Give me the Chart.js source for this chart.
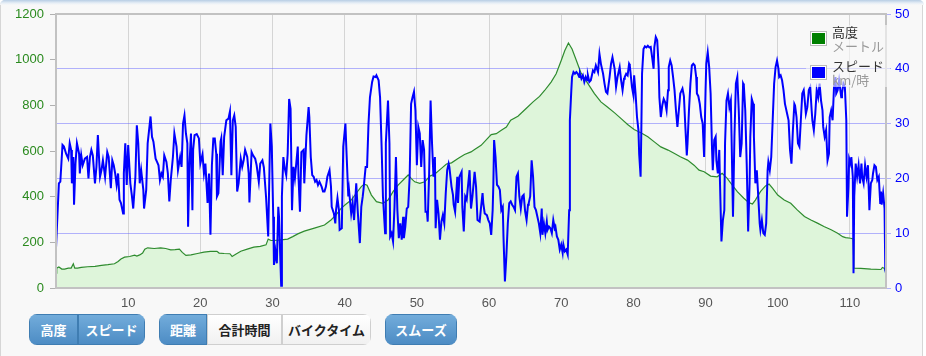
<!DOCTYPE html>
<html><head><meta charset="utf-8">
<script src="https://cdn.jsdelivr.net/npm/chart.js@4.4.1/dist/chart.umd.min.js"></script>
<style>
html,body{margin:0;padding:0;background:#fff;width:926px;height:356px;overflow:hidden;}
#card{position:absolute;left:0;top:0;width:921px;height:370px;background:#f8f8f8;border:1px solid #d6d6d6;border-radius:5px;}
#topbar{position:absolute;left:0;top:0;width:924px;height:5px;background:linear-gradient(#b7cde4,#e6eef6 60%,#f8f8f8);border-radius:5px 5px 0 0;}
#chart{position:absolute;left:0;top:0;}
#legend{position:absolute;left:806px;top:25px;width:84px;height:62px;background:rgba(248,248,248,0.6);font-family:"Noto Sans CJK JP",sans-serif;font-size:13px;}
.lg{position:absolute;left:4px;width:15px;height:13px;border:1px solid #bbb;box-shadow:inset 0 0 0 1px #fff;}
.lt{position:absolute;left:26px;line-height:14px;white-space:nowrap;color:#333;}
.ls{position:absolute;left:26px;line-height:14px;white-space:nowrap;color:#999;}
.grp{position:absolute;top:314px;height:31px;display:flex;border-radius:8px;overflow:hidden;font-family:"Noto Sans CJK JP",sans-serif;font-weight:bold;font-size:13px;}
.btn{display:flex;align-items:center;justify-content:center;height:29px;box-sizing:border-box;}
.on{background:linear-gradient(#72acdb,#4d8cc4);color:#fff;border:1px solid #3f7db2;}
.off{background:linear-gradient(#ffffff,#f1f1f1);color:#222;border:1px solid #cfcfcf;}
</style></head>
<body>
<div id="card"></div><div id="topbar"></div>
<canvas id="chart" width="926" height="310"></canvas>
<div id="legend"></div>
<div id="buttons"></div>
<script>
// ---- data ----
const elevKm = [0,0.1,0.4,0.8,1.2,1.7,2.1,2.4,2.6,3.0,3.5,4.4,5.4,6.3,7.2,8.1,8.6,9.0,9.5,10.2,10.9,11.2,11.6,12.0,12.3,12.7,13.6,14.5,15.2,15.9,16.5,17.1,17.5,18.0,18.7,19.6,20.5,21.4,22.3,22.6,23.3,24.1,24.4,24.9,25.6,26.5,27.4,28.3,29.1,29.4,29.8,30.2,31.2,32.1,32.8,33.5,34.4,35.8,37.2,38.1,38.8,39.5,40.2,40.9,41.6,42.3,42.7,43.1,43.7,44.4,45.3,46.0,46.7,47.4,48.1,48.8,49.2,49.7,50.4,51.1,51.8,52.5,53.4,54.1,54.8,55.7,56.6,57.5,58.0,58.9,59.8,60.3,61.0,61.7,62.4,63.0,64.0,65.1,66.1,67.0,67.7,68.6,69.3,70.0,70.5,71.0,71.5,72.1,72.7,73.7,74.6,75.5,76.4,77.4,78.3,79.2,80.1,81.1,82.0,82.9,83.8,84.8,85.7,86.5,87.5,88.4,89.1,89.8,90.7,91.6,92.3,93.0,93.7,94.4,95.3,96.0,96.5,96.9,97.6,98.3,98.8,99.3,100.0,100.9,101.8,102.7,103.7,104.6,105.5,106.4,107.4,108.3,109.0,109.4,110.1,110.45,110.55,111.5,112.9,114.3,114.5,114.8,115.0];
const elevM = [65,87,92,83,83,87,87,106,87,87,90,93,95,99,102,106,116,127,135,138,144,140,145,153,170,176,173,176,173,167,168,170,156,143,145,151,157,160,161,153,151,150,138,148,161,170,179,182,189,214,208,208,211,214,225,237,249,262,276,298,320,349,368,385,415,444,455,450,407,378,371,385,422,451,473,495,480,465,458,465,490,499,524,543,548,567,585,596,607,625,655,672,676,691,705,735,752,785,815,839,865,902,938,996,1040,1073,1047,996,945,895,851,815,793,767,742,716,694,679,662,640,618,604,589,575,560,538,516,509,490,487,502,480,451,422,393,374,368,385,422,447,455,436,407,385,371,342,313,298,284,269,255,240,225,221,218,215,87,86,83,81,90,86,65];

const speedKm = [0,0.4,0.6,0.9,1.1,1.4,1.7,1.9,2.1,2.2,2.4,2.5,2.7,2.9,3.2,3.3,3.5,3.7,4.0,4.3,4.5,4.7,4.9,5.1,5.4,5.6,5.8,6.1,6.3,6.5,6.8,7.1,7.3,7.6,7.8,8.0,8.2,8.4,8.6,8.8,9.0,9.3,9.4,9.6,9.8,10.0,10.3,10.5,10.7,11.0,11.2,11.4,11.6,11.8,12.1,12.2,12.5,12.7,13.1,13.3,13.5,13.8,14.0,14.2,14.4,14.6,14.8,15.0,15.3,15.5,15.7,15.9,16.2,16.4,16.7,16.9,17.2,17.4,17.6,17.8,18.0,18.2,18.3,18.5,18.7,18.9,19.0,19.2,19.5,19.8,20.0,20.3,20.5,20.7,21.0,21.2,21.4,21.6,21.8,22.0,22.2,22.3,22.5,22.8,22.9,23.1,23.3,23.6,23.9,24.1,24.3,24.5,24.7,24.9,25.1,25.3,25.6,25.8,26.0,26.2,26.5,26.7,26.8,27.1,27.3,27.6,27.8,28.1,28.3,28.6,28.8,29.1,29.4,29.7,29.9,30.1,30.2,30.4,30.6,30.8,30.9,31.2,31.3,31.5,31.7,31.9,32.1,32.3,32.5,32.7,32.9,33.1,33.5,33.6,33.8,34.0,34.3,34.4,34.7,35.0,35.1,35.3,35.5,35.7,35.9,36.1,36.3,36.5,36.8,37.0,37.2,37.4,37.6,37.9,38.1,38.2,38.5,38.7,38.8,39.0,39.2,39.3,39.6,39.8,40.1,40.2,40.5,40.6,40.9,41.1,41.3,41.6,41.8,42.1,42.3,42.5,42.6,42.9,43.1,43.3,43.5,43.8,44.0,44.3,44.4,44.7,44.9,45.1,45.3,45.6,45.7,46.0,46.2,46.3,46.5,46.7,46.9,47.1,47.3,47.5,47.7,47.9,48.1,48.2,48.4,48.6,48.8,49.0,49.2,49.4,49.6,49.8,50.0,50.2,50.4,50.6,50.8,51.0,51.2,51.4,51.5,51.7,51.9,52.1,52.3,52.5,52.6,52.8,53.0,53.2,53.4,53.6,53.8,54.0,54.2,54.4,54.5,54.8,55.0,55.1,55.3,55.6,55.7,55.9,56.2,56.3,56.5,56.7,56.9,57.3,57.5,57.7,58.0,58.2,58.4,58.7,58.9,59.1,59.2,59.4,59.7,59.9,60.1,60.3,60.5,60.6,60.7,60.9,61.1,61.3,61.5,61.7,61.9,62.0,62.2,62.4,62.6,62.8,63.0,63.2,63.4,63.6,63.8,64.0,64.2,64.4,64.6,64.8,65.0,65.2,65.4,65.5,65.7,65.9,66.1,66.3,66.5,66.7,66.9,67.1,67.3,67.4,67.6,67.8,68.0,68.1,68.3,68.5,68.7,68.9,69.1,69.2,69.4,69.6,69.8,70.0,70.2,70.3,70.5,70.7,70.9,71.1,71.2,71.4,71.5,71.7,71.9,72.1,72.3,72.5,72.6,72.8,73.0,73.2,73.4,73.6,73.7,73.9,74.1,74.4,74.6,74.8,75.1,75.3,75.5,75.8,76.0,76.2,76.4,76.7,76.9,77.1,77.4,77.6,77.8,78.1,78.3,78.5,78.7,78.8,79.0,79.2,79.4,79.5,79.8,80.0,80.1,80.3,80.5,80.7,80.8,81.0,81.1,81.2,81.4,81.6,81.8,82.0,82.2,82.4,82.6,82.8,82.9,83.1,83.3,83.5,83.6,83.8,84.0,84.2,84.4,84.6,84.8,84.9,85.1,85.3,85.5,85.7,85.9,86.1,86.5,86.8,87.0,87.2,87.4,87.5,87.7,87.9,88.1,88.3,88.5,88.7,88.8,89.0,89.2,89.4,89.6,89.8,90.0,90.1,90.3,90.5,90.7,90.9,91.0,91.2,91.4,91.5,91.7,91.9,92.0,92.2,92.4,92.6,92.7,92.9,93.1,93.3,93.5,93.6,93.8,94.0,94.2,94.4,94.6,94.8,95.0,95.2,95.3,95.5,95.7,95.8,95.9,96.1,96.2,96.4,96.6,96.7,96.9,97.1,97.3,97.5,97.6,97.8,98.0,98.2,98.4,98.6,98.7,98.9,99.1,99.3,99.5,99.7,99.9,100.1,100.2,100.4,100.6,100.8,101.0,101.1,101.3,101.5,101.7,101.9,102.1,102.3,102.4,102.6,102.8,103.0,103.2,103.4,103.6,103.7,103.9,104.1,104.3,104.5,104.7,104.8,105.0,105.2,105.4,105.6,105.8,106.0,106.2,106.3,106.5,106.7,106.9,107.1,107.2,107.4,107.6,107.8,108.0,108.1,108.3,108.5,108.8,108.9,109.1,109.3,109.5,109.6,109.8,109.9,110.1,110.2,110.4,110.5,110.6,110.8,111.0,111.2,111.4,111.6,111.7,111.9,112.1,112.3,112.5,112.7,112.9,113.1,113.2,113.4,113.6,113.8,114.0,114.2,114.3,114.4,114.6,114.8,114.9,115.0];
const speedKmh = [7.3,19.1,19.4,26.1,25.8,24.5,23.6,26.4,25.2,19.1,23.9,15.2,22.7,26.4,24.5,20.9,24.2,22.4,23.6,23.9,20.0,23.9,25.2,24.2,19.1,22.1,27.9,20.3,21.5,23.3,20.3,24.8,23.9,18.2,23.3,22.4,20.9,18.8,20.9,16.1,15.5,13.6,20.9,26.4,18.8,26.1,19.1,17.0,14.5,20.3,29.7,26.4,19.1,21.5,17.9,14.5,17.9,26.4,31.3,27.6,26.7,23.6,23.0,22.4,19.7,20.9,20.3,24.2,23.0,20.9,15.8,19.7,23.9,28.2,25.8,21.5,23.9,22.1,30.0,31.5,28.2,26.4,11.2,22.7,28.2,14.2,25.2,27.9,28.1,27.3,22.7,24.4,20.9,22.7,15.5,20.9,9.7,22.4,27.3,27.3,24.5,16.7,17.3,26.7,27.3,20.6,27.6,30.6,30.9,32.2,20.6,30.6,31.5,29.4,17.6,19.1,23.6,22.1,23.3,25.2,23.9,20.9,15.6,24.8,24.2,23.6,22.4,19.4,22.7,23.3,22.0,16.7,9.4,30.0,25.8,13.0,4.2,6.7,4.5,14.8,13.0,0.4,16.7,23.9,21.8,20.6,24.5,34.5,32.7,14.2,22.1,20.0,25.8,20.3,13.9,24.8,25.2,19.1,27.9,33.0,31.2,23.9,20.6,20.3,19.4,19.7,18.8,19.4,18.5,17.6,17.6,18.5,20.3,21.5,18.5,14.8,13.6,11.8,14.2,16.4,14.2,10.6,10.9,25.8,30.0,26.4,16.7,17.9,13.6,15.5,12.4,19.1,14.2,8.2,14.8,16.7,17.9,22.1,22.1,30.0,34.8,37.6,38.6,38.5,38.8,37.9,34.8,26.4,16.7,10.0,26.4,34.2,26.4,9.4,10.0,8.5,14.8,23.9,14.2,9.1,11.8,8.8,13.0,9.1,11.2,14.5,14.8,20.3,33.6,34.8,35.8,32.4,22.4,29.4,28.2,22.1,27.0,25.2,13.9,13.9,12.1,20.9,34.2,26.4,20.3,23.9,10.9,16.1,13.6,8.8,12.1,13.3,11.8,17.3,21.5,22.7,22.1,18.5,17.0,15.2,13.9,20.3,15.5,20.3,21.2,14.8,10.3,16.7,16.1,21.5,14.5,16.7,21.2,18.5,12.4,12.1,14.8,17.3,15.5,13.6,13.3,12.4,11.8,9.7,14.2,19.1,27.0,23.9,18.8,18.5,17.9,14.2,14.8,9.4,1.2,5.8,11.8,15.5,15.8,15.2,14.8,14.2,20.3,20.9,16.7,14.5,16.7,17.0,14.0,12.4,15.2,15.5,16.7,23.3,20.3,14.8,14.2,13.0,11.8,10.0,14.5,9.7,11.8,10.0,12.1,10.6,11.2,10.9,10.0,12.4,10.9,11.2,9.4,8.8,7.0,7.9,6.4,7.9,6.7,7.0,6.1,14.2,30.6,36.1,38.5,39.4,39.1,39.4,39.1,38.5,39.1,38.2,38.8,37.6,38.5,37.9,38.8,37.6,37.9,39.7,39.4,40.6,39.4,42.7,40.9,39.1,37.3,35.8,35.5,38.5,40.9,42.1,40.0,36.7,38.5,40.3,37.9,36.1,38.2,38.5,39.1,38.8,40.9,40.6,36.7,35.2,38.8,35.5,31.2,28.8,24.5,20.3,28.8,39.1,43.6,44.1,43.9,44.2,43.9,44.0,42.1,40.0,43.9,45.8,45.2,40.3,34.8,31.2,33.3,34.5,33.9,32.4,36.1,40.3,41.5,40.6,38.5,36.1,32.4,29.4,35.5,36.4,35.0,29.4,24.2,26.4,32.4,37.3,40.6,40.9,40.6,38.5,35.5,35.0,33.6,31.2,30.0,23.9,36.1,40.9,43.0,40.3,35.5,25.2,21.5,27.0,27.6,23.3,20.9,25.2,19.1,8.5,12.4,14.2,26.4,34.2,35.5,33.0,34.2,27.6,13.0,27.6,37.3,38.5,32.4,23.9,26.4,37.3,37.0,32.4,22.7,16.7,10.3,19.1,27.6,34.5,33.6,27.6,19.1,21.5,16.7,11.8,10.6,12.4,10.0,9.7,11.8,21.5,23.0,21.5,23.9,30.6,37.3,40.3,41.5,40.0,38.5,38.8,37.9,36.1,33.6,33.0,31.8,30.6,25.2,22.7,28.8,33.6,33.3,31.2,26.4,25.8,30.6,35.5,36.1,34.8,31.8,33.0,36.1,36.7,32.4,30.6,28.8,31.8,36.1,34.8,37.3,34.2,32.4,29.4,27.6,28.8,23.3,24.5,31.2,32.4,30.6,36.7,38.5,35.5,36.1,37.9,34.8,35.5,37.3,36.7,30.6,13.0,18.5,23.6,22.7,23.9,20.3,2.7,16.7,22.7,20.3,22.4,19.1,22.7,20.3,19.1,22.4,20.3,22.4,14.2,19.1,19.7,20.9,22.4,22.1,19.7,20.3,15.5,17.6,15.2,17.3,14.5,3.3,2.7];

const legendItems = [
  {name:'高度', unit:'メートル', color:'#008000'},
  {name:'スピード', unit:'km/時', color:'#0000ff'}
];
const buttonGroups = [
  {left:29, items:[['高度',49,true],['スピード',67,true]]},
  {left:159, items:[['距離',48,true],['合計時間',75,false],['バイクタイム',89,false]]},
  {left:385, items:[['スムーズ',72,true]]}
];

// ---- build ----
const elevData = elevKm.map((k,i)=>({x:k, y:elevM[i]}));
const speedData = speedKm.map((k,i)=>({x:k, y:speedKmh[i]}));

const borderPlugin = {
  id:'plotBorder',
  afterDraw(chart){
    const a = chart.chartArea, c = chart.ctx;
    c.save();
    c.strokeStyle = '#c2c2c2';
    c.lineWidth = 2;
    c.strokeRect(a.left, a.top, a.right - a.left, a.bottom - a.top);
    c.restore();
  }
};

Chart.defaults.font.family = '"Liberation Sans", Arial, sans-serif';
Chart.defaults.font.size = 13;

new Chart(document.getElementById('chart'), {
  type:'line',
  data:{datasets:[
    {label:'スピード', data:speedData, yAxisID:'ySpeed', borderColor:'#0000ff', borderWidth:2, pointRadius:0, tension:0, fill:false, order:0},
    {label:'高度', data:elevData, yAxisID:'yElev', borderColor:'#2e8b2e', borderWidth:1.2, pointRadius:0, tension:0, fill:'origin', backgroundColor:'#def5da', order:1}
  ]},
  options:{
    responsive:false, animation:false, devicePixelRatio:1,
    layout:{autoPadding:false, padding:{top:14,left:0,right:0,bottom:0}},
    plugins:{legend:{display:false}, tooltip:{enabled:false}},
    scales:{
      x:{type:'linear', min:0, max:115,
         border:{display:false},
         grid:{color:'rgba(0,0,0,0.14)', drawTicks:false},
         ticks:{stepSize:10, padding:8, color:'#555', maxRotation:0,
                callback:(v)=> (v>0 && v%10===0) ? String(v) : ''},
         afterFit:(s)=>{s.height = 22;}},
      yElev:{type:'linear', position:'left', min:0, max:1200,
         border:{display:false},
         grid:{drawOnChartArea:false, drawTicks:true, tickLength:6, tickColor:'#b0b0b0'},
         ticks:{stepSize:200, padding:6, color:'#2a8a1e', callback:(v)=>String(v)},
         afterFit:(s)=>{s.width = 56;}},
      ySpeed:{type:'linear', position:'right', min:0, max:50,
         border:{display:false},
         grid:{color:'rgba(90,90,255,0.45)', drawTicks:true, tickLength:5},
         ticks:{stepSize:10, padding:4, color:'#0000ff', callback:(v)=>String(v)},
         afterFit:(s)=>{s.width = 40;}}
    }
  },
  plugins:[borderPlugin]
});

// legend
const lg = document.getElementById('legend');
legendItems.forEach((it,i)=>{
  const top = i*34;
  const b = document.createElement('div'); b.className='lg'; b.style.top=(6+top)+'px'; b.style.background=it.color; lg.appendChild(b);
  const t = document.createElement('div'); t.className='lt'; t.style.top=(0+top)+'px'; t.textContent=it.name; lg.appendChild(t);
  const u = document.createElement('div'); u.className='ls'; u.style.top=(14+top)+'px'; u.textContent=it.unit; lg.appendChild(u);
});

// buttons
const bc = document.getElementById('buttons');
buttonGroups.forEach(g=>{
  const d = document.createElement('div'); d.className='grp'; d.style.left=g.left+'px';
  g.items.forEach(([txt,w,on])=>{
    const b = document.createElement('div'); b.className='btn '+(on?'on':'off');
    b.style.width=w+'px'; b.style.height='31px'; b.textContent=txt; d.appendChild(b);
  });
  bc.appendChild(d);
});
</script>
</body></html>
